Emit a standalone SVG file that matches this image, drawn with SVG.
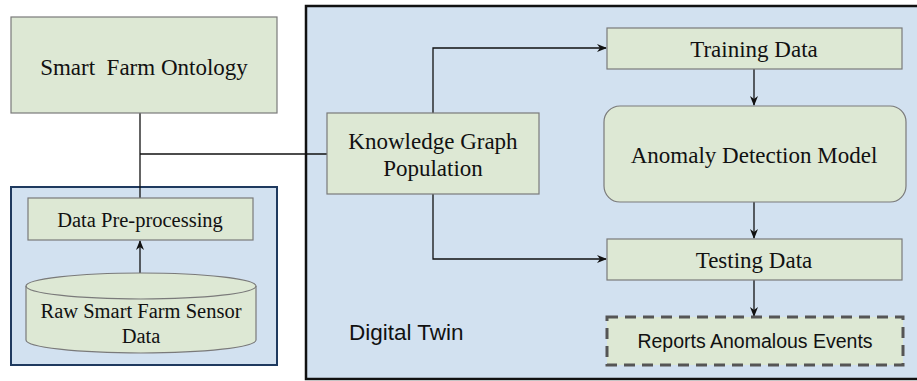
<svg xmlns="http://www.w3.org/2000/svg" width="917" height="381" viewBox="0 0 917 381">
<defs>
<marker id="arr" markerWidth="10" markerHeight="8" refX="9" refY="4" orient="auto" markerUnits="userSpaceOnUse"><path d="M0,0 L10,4 L0,8 L3,4 Z" fill="#111"/></marker>
<style>
.box{fill:#dde8d4;stroke:#7a7a7a;stroke-width:1.2}
.serif{font-family:"Liberation Serif","Times New Roman",serif;fill:#111;text-anchor:middle}
.sans{font-family:"Liberation Sans",Arial,sans-serif;fill:#111}
.line{fill:none;stroke:#111;stroke-width:1.3}
</style>
</defs>
<rect width="917" height="381" fill="#fff"/>
<g id="left-container"><rect x="11" y="187" width="266" height="178" fill="#d2e1f0" stroke="#1f3a5f" stroke-width="2"/></g>
<g id="digital-twin"><rect x="306" y="6" width="620" height="373" fill="#d2e1f0" stroke="#111" stroke-width="2.5"/>
<text class="sans" x="349" y="340" font-size="22.5">Digital Twin</text></g>
<g id="connectors">
<path class="line" d="M140,113 V198"/>
<path class="line" d="M140,154 H327"/>
<path class="line" d="M140,273 V241" marker-end="url(#arr)"/>
<path class="line" d="M433,113 V48 H606" marker-end="url(#arr)"/>
<path class="line" d="M433,194 V259 H606" marker-end="url(#arr)"/>
<path class="line" d="M754,69 V105" marker-end="url(#arr)"/>
<path class="line" d="M754,202 V238" marker-end="url(#arr)"/>
<path class="line" d="M754,280 V316" marker-end="url(#arr)"/>
</g>
<g id="ontology"><rect class="box" x="11" y="17" width="266" height="96" stroke="#333"/>
<text class="serif" x="144" y="75" font-size="23" xml:space="preserve">Smart  Farm Ontology</text></g>
<g id="preprocessing"><rect class="box" x="28" y="198" width="225" height="42"/>
<text class="serif" x="140" y="227" font-size="20.5">Data Pre-processing</text></g>
<g id="raw-data"><path class="box" d="M26,286 V340 A115,13 0 0 0 256,340 V286 A115,13 0 0 0 26,286 Z"/>
<path class="box" d="M26,286 A115,13 0 0 0 256,286" style="fill:none"/>
<text class="serif" x="141" y="318" font-size="20.5">Raw Smart Farm Sensor</text>
<text class="serif" x="141" y="343" font-size="20.5">Data</text></g>
<g id="kg"><rect class="box" x="327" y="113" width="212" height="81"/>
<text class="serif" x="433" y="149" font-size="23">Knowledge Graph</text>
<text class="serif" x="433" y="176" font-size="23">Population</text></g>
<g id="training"><rect class="box" x="607" y="28" width="295" height="41"/>
<text class="serif" x="754" y="57" font-size="23">Training Data</text></g>
<g id="model"><rect class="box" x="604" y="106" width="302" height="96" rx="16"/>
<text class="serif" x="754" y="163" font-size="23">Anomaly Detection Model</text></g>
<g id="testing"><rect class="box" x="607" y="239" width="295" height="41"/>
<text class="serif" x="754" y="268" font-size="23">Testing Data</text></g>
<g id="reports"><rect x="607" y="317" width="296" height="48" fill="#dde8d4" stroke="#555" stroke-width="3" stroke-dasharray="11,7"/>
<text class="sans" x="755" y="348" font-size="19.5" text-anchor="middle">Reports Anomalous Events</text></g>
</svg>
